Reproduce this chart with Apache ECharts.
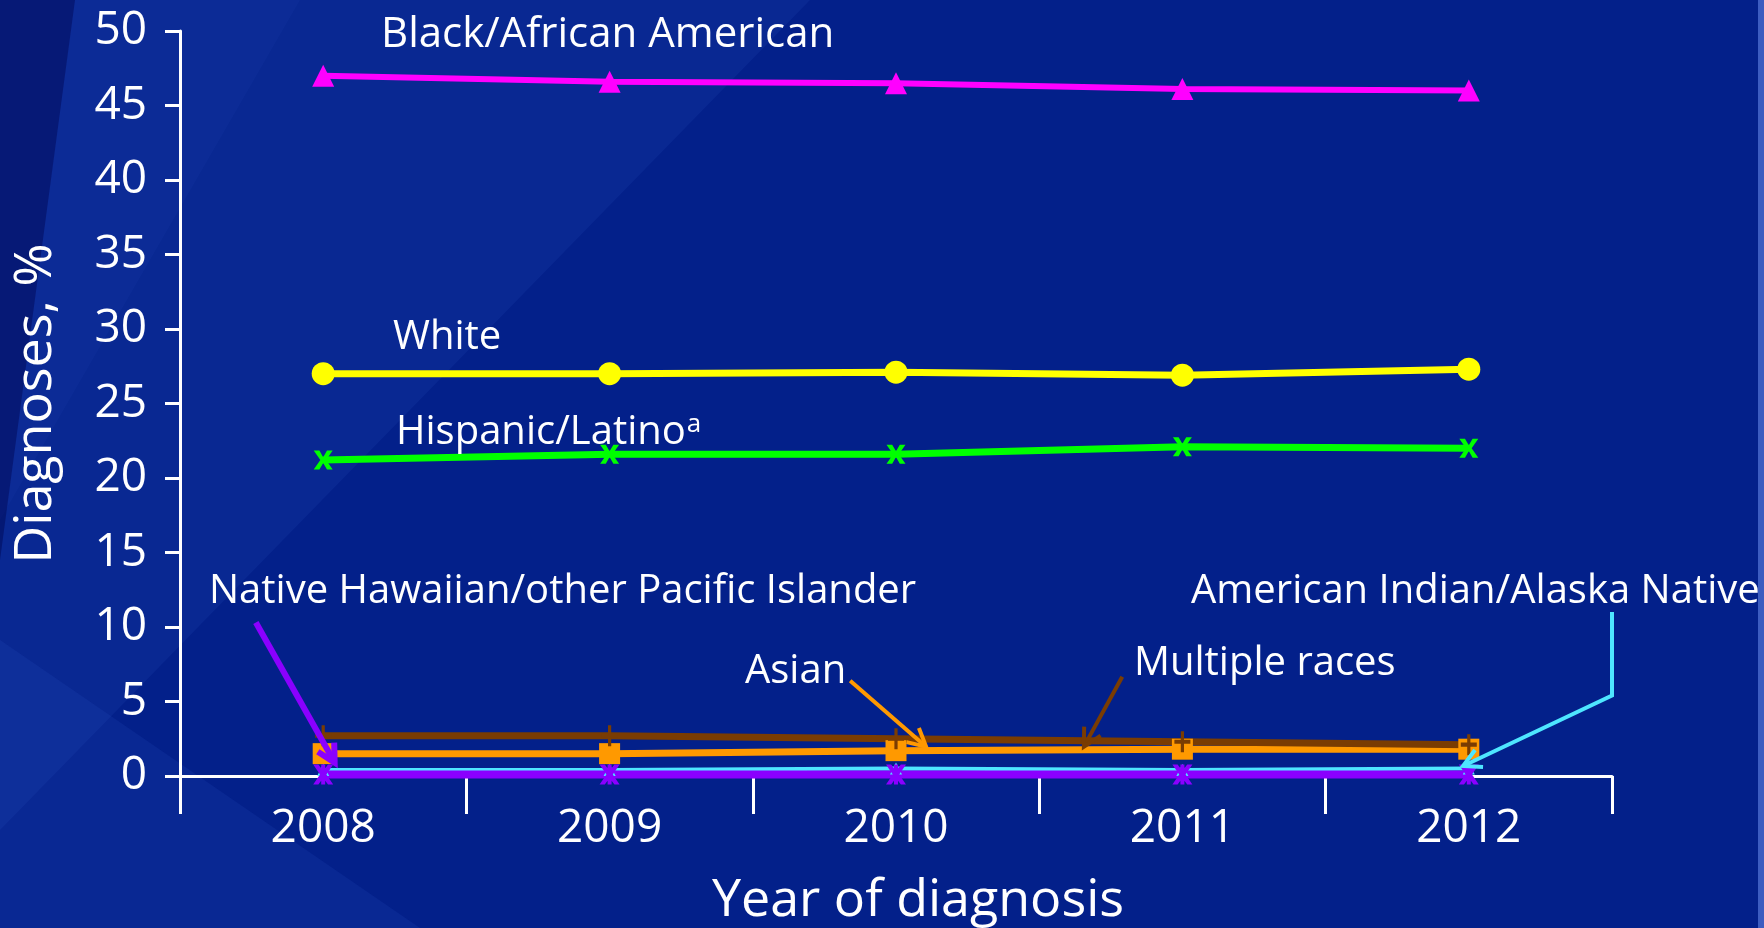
<!DOCTYPE html>
<html>
<head>
<meta charset="utf-8">
<script src="https://cdn.jsdelivr.net/npm/echarts@6/dist/echarts.min.js"></script>
<style>
html, body { margin: 0; padding: 0; background: #03208a; }
#chart { width: 1764px; height: 928px; }
</style>
</head>
<body>
<div id="chart"></div>
<script>
// data (percent of diagnoses)
var years = ['2008', '2009', '2010', '2011', '2012'];
var black = [47.0, 46.6, 46.5, 46.1, 46.0];
var white = [27.0, 27.0, 27.1, 26.9, 27.3];
var hispanic = [21.2, 21.6, 21.6, 22.1, 22.0];
var asian = [1.5, 1.5, 1.7, 1.8, 1.8];
var multiple = [2.7, 2.7, 2.5, 2.3, 2.1];
var aian = [0.4, 0.4, 0.5, 0.4, 0.5];
var nhopi = [0.1, 0.1, 0.1, 0.1, 0.1];

var yMin = 0, yMax = 50, yStep = 5;

// arrow anchors in data space: [category index, value]
var arrowNhopi = [[-0.235, 10.3], [0.04, 0.9]];
var arrowAsian = [[1.84, 6.4], [2.105, 1.97]];
var arrowMultiple = [[2.79, 6.66], [2.656, 1.97]];
var arrowAian = [[4.5, 11.0], [4.5, 5.4], [3.98, 0.67]];

var font = '"Open Sans", "Noto Sans", sans-serif';
var xPath = 'path://M0,0 L3,0 L5,3.5 L7,0 L10,0 L6.5,5 L10,10 L7,10 L5,6.5 L3,10 L0,10 L3.5,5 Z';
var plusPath = 'path://M4,0 L6,0 L6,4 L10,4 L10,6 L6,6 L6,10 L4,10 L4,6 L0,6 L0,4 L4,4 Z';
var starPath = 'path://M0,0 L2.6,0 L5,3.2 L7.4,0 L10,0 L6.6,5 L10,10 L7.4,10 L5,6.8 L2.6,10 L0,10 L3.4,5 Z M4,0 L6,0 L6,10 L4,10 Z';

function line(name, data, color, symbol, size, width) {
  return {
    name: name,
    type: 'line',
    data: data,
    symbol: symbol,
    symbolSize: size,
    showSymbol: true,
    lineStyle: { color: color, width: width },
    itemStyle: { color: color },
    emphasis: { disabled: true },
    animation: false
  };
}

var chart = echarts.init(document.getElementById('chart'));
chart.setOption({
  backgroundColor: '#03208a',
  grid: { left: 180, right: 152, top: 31, bottom: 152, containLabel: false, outerBoundsMode: 'none' },
  xAxis: {
    type: 'category',
    data: years,
    boundaryGap: true,
    name: 'Year of diagnosis',
    nameLocation: 'middle',
    nameGap: 99,
    nameTextStyle: { color: '#fff', fontSize: 52, fontFamily: font, padding: [0, 0, 0, 44] },
    axisLine: { lineStyle: { color: '#fff', width: 3 } },
    axisTick: { show: true, length: 38, lineStyle: { color: '#fff', width: 3 } },
    axisLabel: { color: '#fff', fontSize: 46, fontFamily: font, margin: 30 },
    splitLine: { show: false }
  },
  yAxis: {
    type: 'value',
    min: yMin,
    max: yMax,
    interval: yStep,
    name: 'Diagnoses, %',
    nameLocation: 'middle',
    nameGap: 118,
    nameTextStyle: { color: '#fff', fontSize: 52, fontFamily: font },
    axisLine: { show: true, lineStyle: { color: '#fff', width: 3 } },
    axisTick: { show: true, length: 15, lineStyle: { color: '#fff', width: 3 } },
    axisLabel: { color: '#fff', fontSize: 46, fontFamily: font, margin: 33 },
    splitLine: { show: false }
  },
  series: [
    line('Black/African American', black, '#ff00ff', 'triangle', 22, 6),
    line('White', white, '#ffff00', 'circle', 23, 7),
    line('Hispanic/Latino', hispanic, '#00ff00', xPath, 19, 7),
    line('Asian', asian, '#ff9900', 'rect', 21, 7),
    line('Multiple races', multiple, '#7a3c02', plusPath, [16, 21], 7),
    line('American Indian/Alaska Native', aian, '#4ee6ff', 'triangle', 12, 4),
    line('Native Hawaiian/other Pacific Islander', nhopi, '#8a00ff', starPath, 20, 8)
  ]
});

// annotation texts and arrows
function px(p) {
  var a = chart.convertToPixel({ xAxisIndex: 0, yAxisIndex: 0 }, [0, p[1]]);
  var b = chart.convertToPixel({ xAxisIndex: 0, yAxisIndex: 0 }, [1, p[1]]);
  return [a[0] + p[0] * (b[0] - a[0]), a[1]];
}
function arrow(pts, color, width) {
  var p = pts.map(px);
  var tip = p[p.length - 1], prev = p[p.length - 2];
  var dx = tip[0] - prev[0], dy = tip[1] - prev[1];
  var len = Math.sqrt(dx * dx + dy * dy);
  dx /= len; dy /= len;
  var L = 20, ang = 28 * Math.PI / 180;
  function wing(s) {
    var c = Math.cos(s * ang), sn = Math.sin(s * ang);
    var rx = dx * c - dy * sn, ry = dx * sn + dy * c;
    return [tip[0] - L * rx, tip[1] - L * ry];
  }
  return [
    { type: 'polyline', z: 100, shape: { points: p }, style: { stroke: color, lineWidth: width, fill: null } },
    { type: 'polyline', z: 100, shape: { points: [wing(1), tip, wing(-1)] }, style: { stroke: color, lineWidth: width, fill: null } }
  ];
}
var labelSize = 40;
function label(text, x, y, size) {
  return { type: 'text', z: 100, x: x, y: y,
    style: { text: text, fill: '#fff', fontSize: size || labelSize, fontFamily: font, align: 'left', verticalAlign: 'middle' } };
}
function textWidth(text, size) {
  var ctx = document.createElement('canvas').getContext('2d');
  ctx.font = size + 'px ' + font;
  return ctx.measureText(text).width;
}

// background streaks
var bg = [
  { type: 'polygon', z: -10, silent: true, shape: { points: [[0, 0], [810, 0], [0, 830]] }, style: { fill: 'rgba(50,90,200,0.14)' } },
  { type: 'polygon', z: -10, silent: true, shape: { points: [[0, 0], [300, 0], [0, 520]] }, style: { fill: 'rgba(40,80,190,0.10)' } },
  { type: 'polygon', z: -10, silent: true, shape: { points: [[0, 0], [75, 0], [0, 560]] }, style: { fill: 'rgba(0,5,80,0.45)' } },
  { type: 'polygon', z: -10, silent: true, shape: { points: [[0, 928], [0, 640], [420, 928]] }, style: { fill: 'rgba(60,100,210,0.12)' } },
  { type: 'rect', z: -10, silent: true, shape: { x: 1758, y: 0, width: 6, height: 928 }, style: { fill: '#3c5cc0' } }
];

var hispText = 'Hispanic/Latino';
var graphics = bg.concat([
  label('Black/African American', 381, 35, 42),
  label('White', 393, 338),
  label(hispText, 396, 433),
  label('a', 396 + textWidth(hispText, labelSize) + 1, 425, 26),
  label('Native Hawaiian/other Pacific Islander', 209, 592),
  label('Asian', 745, 672),
  label('Multiple races', 1134, 664),
  label('American Indian/Alaska Native', 1191, 592)
]);
graphics = graphics
  .concat(arrow(arrowNhopi, '#8a00ff', 6))
  .concat(arrow(arrowAsian, '#ff9900', 4))
  .concat(arrow(arrowMultiple, '#7a3c02', 4))
  .concat(arrow(arrowAian, '#4ee6ff', 4));
chart.setOption({ graphic: graphics });
</script>
</body>
</html>
